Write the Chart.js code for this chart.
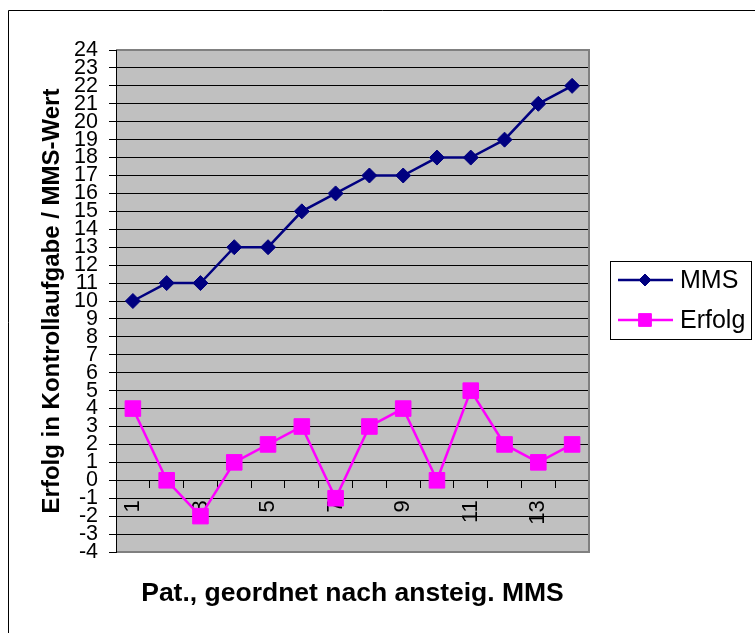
<!DOCTYPE html>
<html>
<head>
<meta charset="utf-8">
<script src="https://cdn.jsdelivr.net/npm/chart.js@4/dist/chart.umd.min.js"></script>
<style>
  html, body { margin: 0; padding: 0; background: #fff; }
  canvas { display: block; }
</style>
</head>
<body>
<canvas id="chartMms" width="755" height="633"></canvas>
<script>
// Daten
const patienten = ['1', '2', '3', '4', '5', '6', '7', '8', '9', '10', '11', '12', '13', '14'];
const wertMms = [10, 11, 11, 13, 13, 15, 16, 17, 17, 18, 18, 19, 21, 22];
const wertErfolg = [4, 0, -2, 1, 2, 3, -1, 3, 4, 0, 5, 2, 1, 2];
const yMin = -4;
const yMax = 24;

const schrift = 'Arial, "Liberation Sans", sans-serif';
Chart.defaults.font.family = schrift;
Chart.defaults.color = '#000';

// Hintergrund grau + Rahmen
const hintergrund = {
    id: 'hintergrund',
    beforeDraw(chart) {
        const { ctx, chartArea: a } = chart;
        ctx.save();
        ctx.fillStyle = '#fff';
        ctx.fillRect(0, 0, chart.width, chart.height);
        // äußerer Rahmen
        ctx.strokeStyle = '#000';
        ctx.lineWidth = 1;
        ctx.beginPath();
        ctx.moveTo(8.5, chart.height + 5);
        ctx.lineTo(8.5, 10.5);
        ctx.lineTo(chart.width + 5, 10.5);
        ctx.stroke();
        ctx.fillStyle = '#c0c0c0';
        ctx.fillRect(a.left, a.top, a.right - a.left, a.bottom - a.top);
        ctx.restore();
    },
    beforeDatasetsDraw(chart) {
        const { ctx, chartArea: a } = chart;
        ctx.save();
        ctx.strokeStyle = '#808080';
        ctx.lineWidth = 2;
        ctx.beginPath();
        ctx.moveTo(a.left, a.top);
        ctx.lineTo(a.right, a.top);
        ctx.lineTo(a.right, a.bottom);
        ctx.lineTo(a.left, a.bottom);
        ctx.stroke();
        ctx.strokeStyle = '#000';
        ctx.lineWidth = 1;
        ctx.beginPath();
        ctx.moveTo(Math.round(a.left) + 0.5, a.top);
        ctx.lineTo(Math.round(a.left) + 0.5, a.bottom + 1);
        ctx.stroke();
        ctx.restore();
    }
};

// Legende mit Linie + Marker
const legendeBox = {
    id: 'legendeBox',
    afterDraw(chart) {
        const { ctx } = chart;
        const box = { x: 610.5, y: 261.5, w: 141, h: 78 };
        ctx.save();
        ctx.strokeStyle = '#000';
        ctx.lineWidth = 1;
        ctx.strokeRect(box.x, box.y, box.w, box.h);
        ctx.font = '25px ' + schrift;
        ctx.textBaseline = 'middle';
        chart.data.datasets.forEach((ds, i) => {
            const y = 280 + i * 40;
            ctx.strokeStyle = ds.borderColor;
            ctx.lineWidth = 2.5;
            ctx.beginPath();
            ctx.moveTo(618, y);
            ctx.lineTo(673, y);
            ctx.stroke();
            ctx.fillStyle = ds.backgroundColor;
            ctx.strokeStyle = ds.borderColor;
            ctx.lineWidth = 1;
            Chart.helpers.drawPoint(ctx, {
                pointStyle: ds.pointStyle,
                radius: ds.pointStyle === 'rect' ? 9 : 6,
                borderWidth: 1,
                rotation: 0
            }, 645, y);
            ctx.fillStyle = '#000';
            ctx.fillText(ds.label, 680, y + 1);
        });
        ctx.restore();
    }
};

const ctxMms = document.getElementById('chartMms').getContext('2d');

new Chart(ctxMms, {
    type: 'line',
    data: {
        labels: patienten,
        datasets: [
            {
                label: 'MMS',
                data: wertMms,
                borderColor: '#000080',
                backgroundColor: '#000080',
                borderWidth: 2.5,
                pointStyle: 'rectRot',
                pointRadius: 7.5,
                pointBorderWidth: 1,
                tension: 0
            },
            {
                label: 'Erfolg',
                data: wertErfolg,
                borderColor: '#ff00ff',
                backgroundColor: '#ff00ff',
                borderWidth: 2.5,
                pointStyle: 'rect',
                pointRadius: 11,
                pointBorderWidth: 1,
                tension: 0
            }
        ]
    },
    options: {
        responsive: false,
        animation: false,
        layout: { padding: { left: 34, top: 50, right: 166, bottom: 81 } },
        plugins: {
            legend: { display: false },
            tooltip: { enabled: false }
        },
        scales: {
            x: {
                type: 'category',
                position: { y: 0 },
                offset: true,
                grid: {
                    offset: true,
                    drawOnChartArea: false,
                    color: '#000',
                    tickLength: 7
                },
                border: { display: true, color: '#000', width: 1 },
                ticks: {
                    autoSkip: false,
                    maxRotation: 90,
                    minRotation: 90,
                    padding: 13,
                    font: { size: 22 },
                    callback: function (value, index) {
                        return index % 2 === 0 ? this.getLabelForValue(value) : '';
                    }
                },
                title: {
                    display: true,
                    text: 'Pat., geordnet nach ansteig. MMS',
                    font: { size: 26.5, weight: 'bold' }
                },
                afterFit(scale) {
                    scale.height = 133;
                }
            },
            y: {
                min: yMin,
                max: yMax,
                grid: {
                    color: '#000',
                    tickLength: 7
                },
                border: { display: true, color: '#000', width: 1 },
                ticks: {
                    stepSize: 1,
                    autoSkip: false,
                    padding: 11,
                    font: { size: 21.5 }
                },
                title: {
                    display: true,
                    text: 'Erfolg in Kontrollaufgabe / MMS-Wert',
                    font: { size: 24, weight: 'bold' }
                },
                afterFit(scale) {
                    scale.width = 82;
                }
            }
        }
    },
    plugins: [hintergrund, legendeBox]
});
</script>
</body>
</html>
